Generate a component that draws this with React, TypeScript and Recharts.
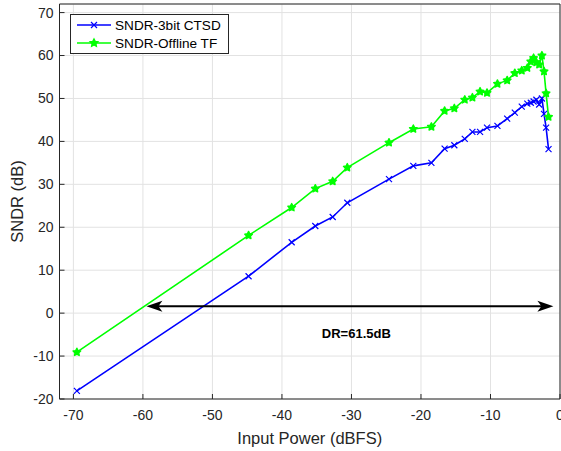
import {
  LineChart,
  Line,
  XAxis,
  YAxis,
  CartesianGrid,
  Legend,
  ReferenceLine,
  ReferenceDot,
} from "recharts";

// input power sweep (dBFS), shared by both curves
const inputPower = [
  -69.5, -44.8, -38.6, -35.2, -32.7, -30.6, -24.6, -21.1, -18.5, -16.6, -15.2, -13.7, -12.6, -11.5,
  -10.5, -9.0, -7.6, -6.5, -5.5, -4.7, -4.2, -3.8, -3.4, -3.0, -2.6, -2.3, -2.0, -1.65,
];
const sndrCtsd = [
  -18.1, 8.6, 16.5, 20.3, 22.4, 25.7, 31.2, 34.3, 35.0, 38.3, 39.1, 40.6, 42.2, 42.2,
  43.2, 43.6, 45.3, 46.7, 48.1, 48.8, 49.0, 49.3, 49.7, 48.6, 50.0, 46.4, 43.2, 38.2,
];
const sndrOffline = [
  -9.1, 18.1, 24.6, 29.0, 30.7, 33.9, 39.7, 42.9, 43.4, 47.1, 47.7, 49.7, 50.2, 51.6,
  51.3, 53.4, 54.2, 55.9, 56.5, 57.1, 58.6, 59.4, 58.4, 57.9, 60.0, 56.3, 51.2, 45.7,
];

const xTicks = [-70, -60, -50, -40, -30, -20, -10, 0];
const yTicks = [-20, -10, 0, 10, 20, 30, 40, 50, 60, 70];

// DR annotation
const drStart = { x: -59.5, y: 1.6 };
const drEnd = { x: -0.95, y: 1.6 };
const drLabel = { x: -29.3, y: -4.8, text: "DR=61.5dB" };

const BLUE = "#0000ff";
const GREEN = "#00ff00";
const AXIS = "#262626";
const FONT = "'Liberation Sans', Arial, Helvetica, sans-serif";

const data = inputPower.map((x, i) => ({
  x,
  ctsd: sndrCtsd[i],
  offline: sndrOffline[i],
}));

function crossPath(cx: number, cy: number, r: number) {
  return `M${cx - r},${cy - r}L${cx + r},${cy + r}M${cx - r},${cy + r}L${cx + r},${cy - r}`;
}

function starPath(cx: number, cy: number, ro: number, ri: number) {
  let d = "";
  for (let k = 0; k < 10; k++) {
    const r = k % 2 === 0 ? ro : ri;
    const a = -Math.PI / 2 + (k * Math.PI) / 5;
    d += `${k === 0 ? "M" : "L"}${cx + r * Math.cos(a)},${cy + r * Math.sin(a)}`;
  }
  return d + "Z";
}

const CrossDot = (props: any) => {
  const { cx, cy, index } = props;
  if (cx == null || cy == null) return <g key={`c-${index}`} />;
  return (
    <path key={`c-${index}`} d={crossPath(cx, cy, 3)} stroke={BLUE} strokeWidth={1.2} fill="none" />
  );
};

const StarDot = (props: any) => {
  const { cx, cy, index } = props;
  if (cx == null || cy == null) return <g key={`s-${index}`} />;
  return (
    <path
      key={`s-${index}`}
      d={starPath(cx, cy, 4, 2)}
      stroke={GREEN}
      strokeWidth={1.4}
      strokeLinejoin="round"
      fill={GREEN}
    />
  );
};

function arrowHead(tx: number, ty: number, dir: number) {
  const len = 16;
  const half = 5.5;
  const notch = 12;
  return `M${tx},${ty}L${tx - dir * len},${ty - half}L${tx - dir * notch},${ty}L${tx - dir * len},${ty + half}Z`;
}

const DrArrow = (props: any) => {
  const { x1, y1, x2, y2 } = props;
  if (x1 == null) return <g />;
  const left = Math.min(x1, x2);
  const right = Math.max(x1, x2);
  return (
    <g>
      <line x1={left + 8} y1={y1} x2={right - 8} y2={y2} stroke="#000" strokeWidth={2} />
      <path d={arrowHead(left, y1, -1)} fill="#000" />
      <path d={arrowHead(right, y2, 1)} fill="#000" />
    </g>
  );
};

const LegendBox = (props: any) => {
  const items = props.payload || [];
  return (
    <div
      style={{
        boxSizing: "border-box",
        width: 159,
        height: 40,
        border: `1px solid ${AXIS}`,
        background: "#fff",
        paddingTop: 1,
        fontFamily: FONT,
        fontSize: 13.6,
        color: "#000",
      }}
    >
      {items.map((it: any) => (
        <div key={it.value} style={{ display: "flex", alignItems: "center", height: 18 }}>
          <svg width={44} height={18} style={{ display: "block" }}>
            <line x1={6} y1={9} x2={40} y2={9} stroke={it.color} strokeWidth={1.6} />
            {it.dataKey === "ctsd" ? (
              <path d={crossPath(23, 9, 3)} stroke={it.color} strokeWidth={1.2} fill="none" />
            ) : (
              <path d={starPath(23, 9, 4, 2)} stroke={it.color} strokeWidth={1.4} fill={it.color} />
            )}
          </svg>
          <span style={{ whiteSpace: "nowrap" }}>{it.value}</span>
        </div>
      ))}
    </div>
  );
};

const YTitle = (props: any) => {
  const vb = props.viewBox || { x: 0, y: 0, width: 0, height: 0 };
  const cx = vb.x + 17;
  const cy = vb.y + vb.height / 2;
  return (
    <text
      x={cx}
      y={cy}
      transform={`rotate(-90, ${cx}, ${cy})`}
      textAnchor="middle"
      dominantBaseline="central"
      fill={AXIS}
      fontSize={16.5}
      fontFamily={FONT}
    >
      SNDR (dB)
    </text>
  );
};

export default function App() {
  return (
    <div style={{ position: "absolute", left: 0, top: 0, width: 561, height: 451, background: "#fff" }}>
      <LineChart
        width={561}
        height={451}
        data={data}
        margin={{ top: 3, right: 0, bottom: 0, left: 0 }}
        style={{ fontFamily: FONT }}
      >
        <CartesianGrid stroke="#e2e2e2" strokeWidth={1} />
        <XAxis
          dataKey="x"
          type="number"
          domain={[-72, 0]}
          ticks={xTicks}
          interval={0}
          allowDataOverflow
          height={52}
          tickSize={-5}
          tickMargin={16}
          axisLine={{ stroke: AXIS, strokeWidth: 1 }}
          tickLine={{ stroke: AXIS }}
          tick={{ fontSize: 14, fill: AXIS, fontFamily: FONT }}
          label={{
            value: "Input Power (dBFS)",
            position: "insideBottom",
            offset: 7.5,
            fontSize: 16.5,
            fill: AXIS,
            fontFamily: FONT,
          }}
        />
        <XAxis
          xAxisId="top"
          orientation="top"
          type="number"
          domain={[-72, 0]}
          ticks={xTicks}
          interval={0}
          height={1}
          tickSize={-5}
          tickFormatter={() => ""}
          axisLine={{ stroke: AXIS, strokeWidth: 1 }}
          tickLine={{ stroke: AXIS }}
        />
        <YAxis
          type="number"
          domain={[-20, 72]}
          ticks={yTicks}
          interval={0}
          allowDataOverflow
          width={59.5}
          tickSize={-5}
          tickMargin={11}
          axisLine={{ stroke: AXIS, strokeWidth: 1 }}
          tickLine={{ stroke: AXIS }}
          tick={{ fontSize: 14, fill: AXIS, fontFamily: FONT }}
          label={YTitle}
        />
        <YAxis
          yAxisId="right"
          orientation="right"
          type="number"
          domain={[-20, 72]}
          ticks={yTicks}
          interval={0}
          width={1}
          tickSize={-5}
          tickFormatter={() => ""}
          axisLine={{ stroke: AXIS, strokeWidth: 1 }}
          tickLine={{ stroke: AXIS }}
        />
        <Legend
          layout="vertical"
          align="center"
          verticalAlign="middle"
          content={LegendBox}
          wrapperStyle={{ left: 70, top: 14, width: 159, height: 40 }}
        />
        <Line
          type="linear"
          dataKey="ctsd"
          name="SNDR-3bit CTSD"
          stroke={BLUE}
          strokeWidth={1.6}
          dot={CrossDot}
          activeDot={false}
          isAnimationActive={false}
        />
        <Line
          type="linear"
          dataKey="offline"
          name="SNDR-Offline TF"
          stroke={GREEN}
          strokeWidth={1.6}
          dot={StarDot}
          activeDot={false}
          isAnimationActive={false}
        />
        <ReferenceLine segment={[drStart, drEnd]} shape={DrArrow} ifOverflow="visible" />
        <ReferenceDot
          x={drLabel.x}
          y={drLabel.y}
          r={0}
          fill="none"
          stroke="none"
          label={{
            value: drLabel.text,
            position: "center",
            fontSize: 13,
            fontWeight: "bold",
            fill: "#000",
            fontFamily: FONT,
          }}
        />
      </LineChart>
    </div>
  );
}
